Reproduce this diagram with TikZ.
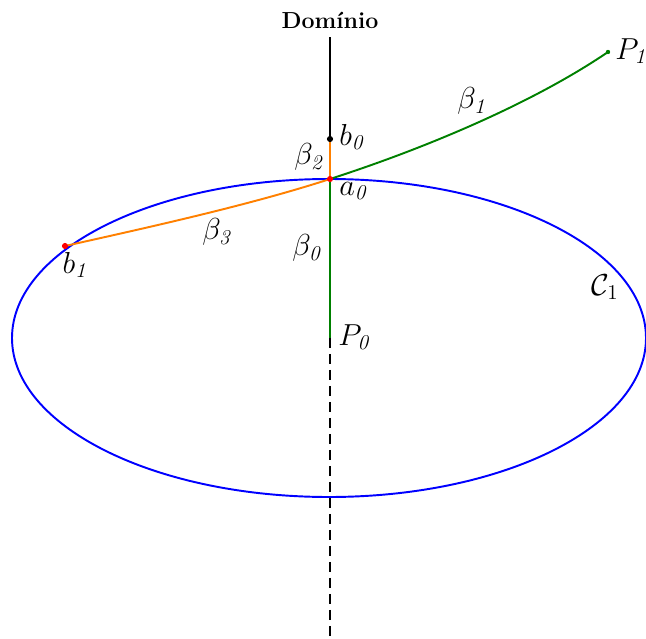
\documentclass[tikz,border=0pt]{standalone}
\begin{document}
\begin{tikzpicture}[x=0.02cm,y=-0.02cm,
  lbl/.style={inner sep=0pt,font=\fontsize{17.5}{20}\selectfont},
  ln/.style={line width=1.1pt},
  dot/.style={circle,fill=#1,inner sep=0pt,minimum size=3.5pt}]
\useasboundingbox (0,0) rectangle (646,639);
\coordinate (top) at (330,37);
\coordinate (b0) at (330,139);
\coordinate (a0) at (330,179);
\coordinate (P0) at (330,338);
\coordinate (bot) at (330,639);
\coordinate (P1) at (608,52);
\coordinate (b1) at (65,246);
\coordinate (C) at (329,338);
% ellipse
\draw[blue,ln] (C) ellipse [x radius=317,y radius=159];
% vertical axis
\draw[black,ln] (top) -- (b0);
\draw[orange,ln] (b0) -- (a0);
\draw[green!50!black,ln] (a0) -- (P0);
\draw[black,ln,dash pattern=on 5.7pt off 3.4pt] (P0) -- (bot);
% curves
\draw[green!50!black,ln] (a0) .. controls (420,150) and (530,105) .. (P1);
\draw[orange,ln] (a0) .. controls (250,205) and (150,227) .. (b1);
% dots
\node[dot=black] at (b0) {};
\node[dot=red] at (a0) {};
\node[dot=red] at (b1) {};
\node[dot=green!50!black,minimum size=2.5pt] at (P1) {};
% labels
\node[font=\fontsize{13.2}{15}\selectfont\bfseries] (dom) at (330,20) {Domínio};
\node[lbl,anchor=west] (lb0) at (339,137) {$b_{\mathit{0}}$};
\node[lbl] (lbeta2) at (310,157) {$\beta_{\mathit{2}}$};
\node[lbl,anchor=west] (la0) at (339,191) {$a_{\mathit{0}}$};
\node[lbl] (lbeta0) at (308,248) {$\beta_{\mathit{0}}$};
\node[lbl,anchor=west] (lP0) at (338,337) {$P_{\mathit{0}}$};
\node[lbl] (lbeta1) at (473,101) {$\beta_{\mathit{1}}$};
\node[lbl,anchor=west] (lP1) at (615,51) {$P_{\mathit{1}}$};
\node[lbl] (lbeta3) at (218,232) {$\beta_{\mathit{3}}$};
\node[lbl] (lb1) at (76,265) {$b_{\mathit{1}}$};
\node[lbl] (lC1) at (605,287) {$\mathcal{C}_1$};
\end{tikzpicture}
\end{document}
